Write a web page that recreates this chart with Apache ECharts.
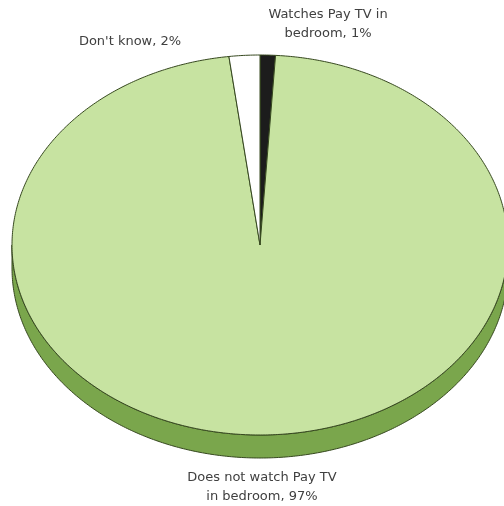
<!DOCTYPE html>
<html>
<head>
<meta charset="utf-8">
<script src="https://cdn.jsdelivr.net/npm/echarts@6/dist/echarts.min.js"></script>
<style>
  html, body { margin: 0; padding: 0; background: #fff; }
  #chart { width: 504px; height: 506px; }
</style>
</head>
<body>
<div id="chart"></div>
<script>
// Pay TV viewing in the bedroom (share of respondents, %)
const categories = ['Watches Pay TV in\nbedroom', 'Does not watch Pay TV\nin bedroom', "Don't know"];
const values = [1, 97, 2];

// Slice look
const topColors = ['#1c1c1c', '#c7e3a1', '#ffffff'];
const sideColor = '#7aa64c';
const edgeColor = '#36481f';

// Tilted-disc geometry
const CX = 260, CY = 245, RX = 248, RY = 190, DEPTH = 23;
// Label anchors (centre of text block) per slice
const labelAnchors = [[328, 24], [262, 487], [130, 42]];

const total = values.reduce((a, b) => a + b, 0);
const starts = [];
values.reduce((acc, v) => { starts.push(acc); return acc + v; }, 0);

// Angle measured clockwise from 12 o'clock
function pt(theta, dy) {
  return [CX + RX * Math.sin(theta), CY - RY * Math.cos(theta) + (dy || 0)];
}

function arcPoints(a0, a1, dy) {
  const pts = [];
  const n = Math.max(2, Math.ceil(Math.abs(a1 - a0) / 0.01));
  for (let i = 0; i <= n; i++) pts.push(pt(a0 + (a1 - a0) * i / n, dy));
  return pts;
}

function renderItem(params, api) {
  const i = params.dataIndex;
  const v = api.value(0);
  const a0 = starts[i] / total * Math.PI * 2;
  const a1 = a0 + v / total * Math.PI * 2;
  const children = [];

  // Front wall of the disc, only where it faces the viewer
  const s0 = Math.max(a0, Math.PI / 2), s1 = Math.min(a1, Math.PI * 1.5);
  if (s1 > s0) {
    const topEdge = arcPoints(s0, s1, 0);
    const botEdge = arcPoints(s1, s0, DEPTH);
    children.push({
      type: 'polygon',
      shape: { points: topEdge.concat(botEdge) },
      style: { fill: sideColor, stroke: edgeColor, lineWidth: 1 }
    });
  }

  // Top face of the slice
  const face = [[CX, CY]].concat(arcPoints(a0, a1, 0));
  children.push({
    type: 'polygon',
    shape: { points: face },
    style: { fill: topColors[i], stroke: edgeColor, lineWidth: 1, lineJoin: 'round' }
  });

  // Label
  const [lx, ly] = labelAnchors[i];
  children.push({
    type: 'text',
    x: lx, y: ly,
    style: {
      text: categories[i] + ', ' + v + '%',
      fill: '#404040',
      font: '13px "DejaVu Sans", Verdana, sans-serif',
      align: 'center',
      verticalAlign: 'middle',
      lineHeight: 19
    }
  });

  return { type: 'group', children };
}

const chart = echarts.init(document.getElementById('chart'), null, { renderer: 'canvas' });
chart.setOption({
  backgroundColor: '#ffffff',
  animation: false,
  series: [{
    type: 'custom',
    coordinateSystem: 'none',
    renderItem,
    data: values.map(v => [v])
  }]
});
</script>
</body>
</html>
